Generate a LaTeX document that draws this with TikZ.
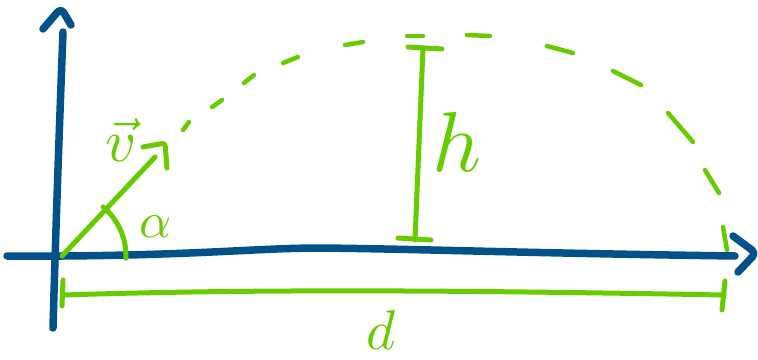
\documentclass[tikz,border=0pt]{standalone}
\definecolor{axblue}{HTML}{02518B}
\definecolor{sgreen}{HTML}{66CC00}
\begin{document}
\begin{tikzpicture}[x=1pt,y=-1pt, line cap=round, line join=round,
  axis/.style={draw=axblue,line width=7.5pt},
  gline/.style={draw=sgreen,line width=5pt},
  dashseg/.style={draw=sgreen,line width=4.5pt},
  lbl/.style={text=sgreen, inner sep=0pt}]
\useasboundingbox (0,0) rectangle (758,359);
% key points
\coordinate (O) at (62,256);
\coordinate (ybot) at (53,328);
\coordinate (ytop) at (63,32);
\coordinate (xl) at (7,256);
\coordinate (xr) at (735,256);
\coordinate (vtip) at (155,157);
\coordinate (htop) at (423,48);
\coordinate (hbot) at (415,240);
\coordinate (dl) at (63,295);
\coordinate (dr) at (724,295);
% axes
\draw[axis] (ybot) .. controls (56,220) and (60,110) .. (ytop);
\draw[axis,rounded corners=5pt] (43,29) -- (61,8) -- (71,25);
\draw[axis] (xl) -- (O) .. controls (200,255) and (260,248) .. (320,248)
  .. controls (420,249) and (520,253) .. (xr);
\draw[axis,rounded corners=5pt] (733,236) -- (756,253) -- (738,272);
% velocity vector
\draw[gline] (O) -- (vtip);
\draw[gline,rounded corners=3pt] (143,147) -- (165,143) -- (167,168);
% angle
\draw[gline] ([shift={(50:64pt)}]O) arc[start angle=50,end angle=-2,radius=64pt];
% height
\draw[gline] (htop) -- (hbot);
\draw[gline] (408,47) -- (442,49);
\draw[gline] (398,238) -- (431,240);
% distance
\draw[gline] (dl) .. controls (250,289) and (450,290) .. (dr);
\draw[gline] (63,280) -- (62,306);
\draw[gline] (725,281) -- (722,310);
% trajectory dashes
\draw[dashseg] (183,130) -- (189,122);
\draw[dashseg] (212,107) -- (222,100);
\draw[dashseg] (244,83) -- (254,75);
\draw[dashseg] (283,63) -- (298,57);
\draw[dashseg] (345,45) -- (363,42);
\draw[dashseg] (407,36) -- (423,36);
\draw[dashseg] (467,35) -- (490,36);
\draw[dashseg] (547,46) -- (573,53);
\draw[dashseg] (613,71) -- (641,85);
\draw[dashseg] (668,113) -- (693,142);
\draw[dashseg] (705,170) -- (719,193);
\draw[dashseg] (723,227) -- (727,250);
% labels
\node[lbl,scale=6] (v) at (121,140) {$\vec v$};
\node[lbl,scale=5] (alpha) at (156,227) {$\alpha$};
\node[lbl,scale=8.5] (h) at (457,142) {$h$};
\node[lbl,scale=5.6] (d) at (381,330) {$d$};
\end{tikzpicture}
\end{document}
